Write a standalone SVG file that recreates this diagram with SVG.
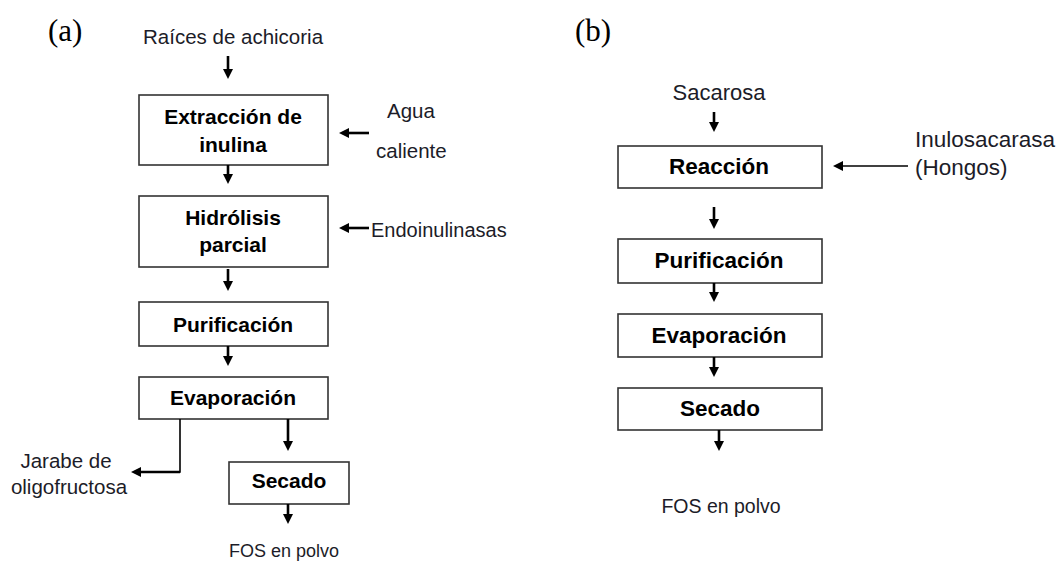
<svg xmlns="http://www.w3.org/2000/svg" width="1063" height="562" viewBox="0 0 1063 562">
<style>
.box{fill:#fff;stroke:#333;stroke-width:1.6}
.bt{font-family:"Liberation Sans",Arial,sans-serif;font-weight:bold;font-size:21px;fill:#000;text-anchor:middle}
.bt2{font-family:"Liberation Sans",Arial,sans-serif;font-weight:bold;font-size:22.5px;fill:#000;text-anchor:middle}
.t{font-family:"Liberation Sans",Arial,sans-serif;font-size:20.5px;fill:#1c1c28}
.lab{font-family:"Liberation Serif","Times New Roman",serif;font-size:31px;fill:#000}
.ar{stroke:#000;stroke-width:2.6;fill:none}
.arT{stroke:#000;stroke-width:1.6;fill:none}
</style>
<defs>
<marker id="ah" viewBox="0 0 10 10" refX="1" refY="5" markerWidth="10" markerHeight="10" markerUnits="userSpaceOnUse" orient="auto">
<path d="M0,0 L10,5 L0,10 z" fill="#000"/>
</marker>
</defs>
<rect width="1063" height="562" fill="#fff"/>
<text class="lab" x="48" y="41">(a)</text>
<text class="lab" x="575" y="41">(b)</text>
<g id="a-in"><text class="t" x="143" y="44">Raíces de achicoria</text></g>
<g id="a-extr"><rect class="box" x="139" y="95" width="189" height="70"/><text class="bt" x="233" y="124">Extracción de</text><text class="bt" x="233" y="152">inulina</text></g>
<g id="a-agua"><text class="t" x="387" y="118">Agua</text><text class="t" x="376" y="158">caliente</text></g>
<g id="a-hidr"><rect class="box" x="139" y="196" width="189" height="71"/><text class="bt" x="233" y="225">Hidrólisis</text><text class="bt" x="233" y="252">parcial</text></g>
<g id="a-endo"><text class="t" x="371" y="237" style="font-size:20px">Endoinulinasas</text></g>
<g id="a-puri"><rect class="box" x="139" y="302" width="189" height="44"/><text class="bt" x="233" y="332">Purificación</text></g>
<g id="a-evap"><rect class="box" x="139" y="377" width="189" height="42"/><text class="bt" x="233" y="405">Evaporación</text></g>
<g id="a-jarabe"><text class="t" x="66" y="468" text-anchor="middle">Jarabe de</text><text class="t" x="69" y="494" text-anchor="middle">oligofructosa</text></g>
<g id="a-sec"><rect class="box" x="229" y="462" width="120" height="42"/><text class="bt" x="289" y="488">Secado</text></g>
<g id="a-out"><text class="t" x="229" y="557" style="font-size:18px">FOS en polvo</text></g>
<g id="b-in"><text class="t" x="719" y="100" text-anchor="middle" style="font-size:22px">Sacarosa</text></g>
<g id="b-reac"><rect class="box" x="618" y="146" width="204" height="42"/><text class="bt2" x="719" y="174">Reacción</text></g>
<g id="b-enz"><text class="t" x="915" y="147" style="font-size:22.5px">Inulosacarasa</text><text class="t" x="915" y="175" style="font-size:22.5px">(Hongos)</text></g>
<g id="b-puri"><rect class="box" x="618" y="239" width="204" height="44"/><text class="bt2" x="719" y="268">Purificación</text></g>
<g id="b-evap"><rect class="box" x="618" y="314" width="204" height="43"/><text class="bt2" x="719" y="343">Evaporación</text></g>
<g id="b-sec"><rect class="box" x="618" y="388" width="204" height="42"/><text class="bt2" x="720" y="416">Secado</text></g>
<g id="b-out"><text class="t" x="721" y="513" text-anchor="middle" style="font-size:19.5px">FOS en polvo</text></g>
<g id="connectors">
<line class="ar" x1="228" y1="56" x2="228" y2="70" marker-end="url(#ah)"/>
<line class="ar" x1="228" y1="165" x2="228" y2="175" marker-end="url(#ah)"/>
<line class="ar" x1="228" y1="269" x2="228" y2="282" marker-end="url(#ah)"/>
<line class="ar" x1="228" y1="346" x2="228" y2="357" marker-end="url(#ah)"/>
<line class="ar" x1="369" y1="133" x2="348" y2="133" marker-end="url(#ah)"/>
<line class="ar" x1="369" y1="228" x2="348" y2="228" marker-end="url(#ah)"/>
<line class="ar" x1="288" y1="419" x2="288" y2="442" marker-end="url(#ah)"/>
<line class="ar" x1="288" y1="504" x2="288" y2="515" marker-end="url(#ah)"/>
<polyline class="arT" points="180,419 180,472 179,472"/>
<line class="ar" x1="180" y1="472" x2="140" y2="472" marker-end="url(#ah)"/>
<line class="ar" x1="714" y1="112" x2="714" y2="123" marker-end="url(#ah)"/>
<line class="arT" x1="908" y1="166" x2="842" y2="166" marker-end="url(#ah)"/>
<line class="ar" x1="714" y1="207" x2="714" y2="220" marker-end="url(#ah)"/>
<line class="ar" x1="714" y1="283" x2="714" y2="293" marker-end="url(#ah)"/>
<line class="ar" x1="714" y1="357" x2="714" y2="368" marker-end="url(#ah)"/>
<line class="ar" x1="719" y1="430" x2="719" y2="442" marker-end="url(#ah)"/>
</g>
</svg>
